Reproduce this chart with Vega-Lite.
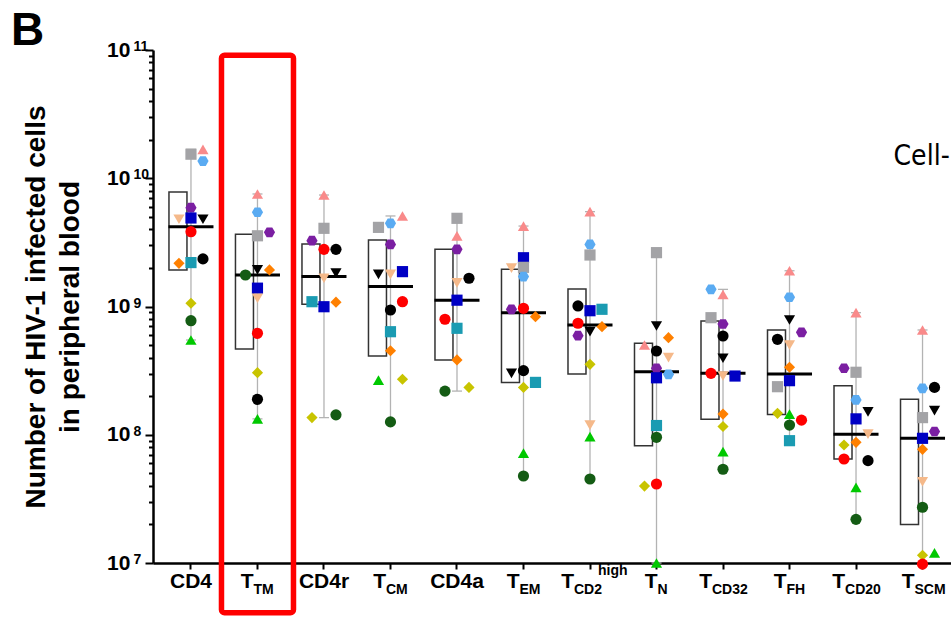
{
  "$schema": "https://vega.github.io/schema/vega-lite/v6.json",
  "width": 798,
  "height": 513,
  "autosize": "none",
  "padding": {"left": 153, "top": 50, "right": 0, "bottom": 56},
  "background": "white",
  "title": {"text": "B", "anchor": "start", "frame": "group", "fontSize": 46, "font": "Liberation Sans", "fontWeight": "bold", "color": "black", "offset": 0, "dx": -142, "dy": 52, "baseline": "alphabetic"},
  "config": {"view": {"stroke": null}},
  "datasets": {
    "boxes": [
      {"cat": "CD4", "q1": 1.93e9, "median": 4.19e9, "q3": 7.8e9, "min": 5.48e8, "max": 1.68e10},
      {"cat": "TTM", "q1": 4.66e8, "median": 1.76e9, "q3": 3.66e9, "min": 1.33e8, "max": 7.54e9},
      {"cat": "CD4r", "q1": 1.04e9, "median": 1.71e9, "q3": 3.07e9, "min": 1.36e8, "max": 7.4e9},
      {"cat": "TCM", "q1": 4.11e8, "median": 1.43e9, "q3": 3.3e9, "min": 1.26e8, "max": 5.08e9},
      {"cat": "CD4a", "q1": 3.83e8, "median": 1.12e9, "q3": 2.79e9, "min": 2.19e8, "max": 4.87e9},
      {"cat": "TEM", "q1": 2.56e8, "median": 8.95e8, "q3": 1.95e9, "min": 4.77e7, "max": 4.24e9},
      {"cat": "TCD2high", "q1": 2.98e8, "median": 7.17e8, "q3": 1.37e9, "min": 4.52e7, "max": 5.49e9},
      {"cat": "TN", "q1": 8.22e7, "median": 3.1e8, "q3": 5.16e8, "min": 1.0e7, "max": 2.63e9},
      {"cat": "TCD32", "q1": 1.32e8, "median": 3.01e8, "q3": 7.71e8, "min": 5.38e7, "max": 1.36e9},
      {"cat": "TFH", "q1": 1.44e8, "median": 2.98e8, "q3": 6.56e8, "min": 8.99e7, "max": 1.9e9},
      {"cat": "TCD20", "q1": 6.47e7, "median": 1.01e8, "q3": 2.41e8, "min": 2.19e7, "max": 8.95e8},
      {"cat": "TSCM", "q1": 2.0e7, "median": 9.38e7, "q3": 1.89e8, "min": 9.8e6, "max": 6.56e8}
    ],
    "points": [
      {"cat": "CD4", "donor": "P3", "lane": "C", "v": 1.54e10},
      {"cat": "CD4", "donor": "P1", "lane": "R", "v": 1.68e10},
      {"cat": "CD4", "donor": "P2", "lane": "R", "v": 1.36e10},
      {"cat": "CD4", "donor": "P4", "lane": "C", "v": 5.9e9},
      {"cat": "CD4", "donor": "P5", "lane": "C", "v": 4.9e9},
      {"cat": "CD4", "donor": "P6", "lane": "L", "v": 4.79e9},
      {"cat": "CD4", "donor": "P7", "lane": "R", "v": 4.79e9},
      {"cat": "CD4", "donor": "P9", "lane": "C", "v": 3.83e9},
      {"cat": "CD4", "donor": "P11", "lane": "L", "v": 2.17e9},
      {"cat": "CD4", "donor": "P10", "lane": "C", "v": 2.2e9},
      {"cat": "CD4", "donor": "P8", "lane": "R", "v": 2.35e9},
      {"cat": "CD4", "donor": "P12", "lane": "C", "v": 1.06e9},
      {"cat": "CD4", "donor": "P13", "lane": "C", "v": 7.75e8},
      {"cat": "CD4", "donor": "P14", "lane": "C", "v": 5.48e8},
      {"cat": "TTM", "donor": "P1", "lane": "C", "v": 7.54e9},
      {"cat": "TTM", "donor": "P2", "lane": "C", "v": 5.43e9},
      {"cat": "TTM", "donor": "P3", "lane": "C", "v": 3.56e9},
      {"cat": "TTM", "donor": "P4", "lane": "R", "v": 3.79e9},
      {"cat": "TTM", "donor": "P13", "lane": "L", "v": 1.76e9},
      {"cat": "TTM", "donor": "P7", "lane": "C", "v": 1.93e9},
      {"cat": "TTM", "donor": "P11", "lane": "R", "v": 1.93e9},
      {"cat": "TTM", "donor": "P5", "lane": "C", "v": 1.39e9},
      {"cat": "TTM", "donor": "P6", "lane": "C", "v": 1.16e9},
      {"cat": "TTM", "donor": "P9", "lane": "C", "v": 6.18e8},
      {"cat": "TTM", "donor": "P12", "lane": "C", "v": 3.05e8},
      {"cat": "TTM", "donor": "P8", "lane": "C", "v": 1.89e8},
      {"cat": "TTM", "donor": "P14", "lane": "C", "v": 1.33e8},
      {"cat": "CD4r", "donor": "P1", "lane": "C", "v": 7.4e9},
      {"cat": "CD4r", "donor": "P3", "lane": "C", "v": 4.07e9},
      {"cat": "CD4r", "donor": "P4", "lane": "L", "v": 3.26e9},
      {"cat": "CD4r", "donor": "P9", "lane": "C", "v": 2.79e9},
      {"cat": "CD4r", "donor": "P8", "lane": "R", "v": 2.79e9},
      {"cat": "CD4r", "donor": "P7", "lane": "R", "v": 1.82e9},
      {"cat": "CD4r", "donor": "P6", "lane": "C", "v": 1.66e9},
      {"cat": "CD4r", "donor": "P10", "lane": "L", "v": 1.09e9},
      {"cat": "CD4r", "donor": "P11", "lane": "R", "v": 1.08e9},
      {"cat": "CD4r", "donor": "P5", "lane": "C", "v": 9.96e8},
      {"cat": "CD4r", "donor": "P12", "lane": "L", "v": 1.36e8},
      {"cat": "CD4r", "donor": "P13", "lane": "R", "v": 1.43e8},
      {"cat": "TCM", "donor": "P1", "lane": "R", "v": 5.08e9},
      {"cat": "TCM", "donor": "P3", "lane": "L", "v": 4.14e9},
      {"cat": "TCM", "donor": "P2", "lane": "C", "v": 4.45e9},
      {"cat": "TCM", "donor": "P4", "lane": "C", "v": 3.05e9},
      {"cat": "TCM", "donor": "P7", "lane": "L", "v": 1.78e9},
      {"cat": "TCM", "donor": "P6", "lane": "C", "v": 1.78e9},
      {"cat": "TCM", "donor": "P5", "lane": "R", "v": 1.87e9},
      {"cat": "TCM", "donor": "P9", "lane": "R", "v": 1.09e9},
      {"cat": "TCM", "donor": "P8", "lane": "C", "v": 9.39e8},
      {"cat": "TCM", "donor": "P10", "lane": "C", "v": 6.36e8},
      {"cat": "TCM", "donor": "P11", "lane": "C", "v": 4.52e8},
      {"cat": "TCM", "donor": "P14", "lane": "L", "v": 2.67e8},
      {"cat": "TCM", "donor": "P12", "lane": "R", "v": 2.71e8},
      {"cat": "TCM", "donor": "P13", "lane": "C", "v": 1.26e8},
      {"cat": "CD4a", "donor": "P3", "lane": "C", "v": 4.87e9},
      {"cat": "CD4a", "donor": "P1", "lane": "C", "v": 3.55e9},
      {"cat": "CD4a", "donor": "P4", "lane": "C", "v": 2.79e9},
      {"cat": "CD4a", "donor": "P6", "lane": "C", "v": 1.53e9},
      {"cat": "CD4a", "donor": "P8", "lane": "R", "v": 1.66e9},
      {"cat": "CD4a", "donor": "P5", "lane": "C", "v": 1.12e9},
      {"cat": "CD4a", "donor": "P9", "lane": "L", "v": 7.95e8},
      {"cat": "CD4a", "donor": "P10", "lane": "C", "v": 6.76e8},
      {"cat": "CD4a", "donor": "P11", "lane": "C", "v": 3.83e8},
      {"cat": "CD4a", "donor": "P13", "lane": "L", "v": 2.19e8},
      {"cat": "CD4a", "donor": "P12", "lane": "R", "v": 2.34e8},
      {"cat": "TEM", "donor": "P1", "lane": "C", "v": 4.24e9},
      {"cat": "TEM", "donor": "P5", "lane": "C", "v": 2.4e9},
      {"cat": "TEM", "donor": "P3", "lane": "C", "v": 2.02e9},
      {"cat": "TEM", "donor": "P6", "lane": "L", "v": 1.99e9},
      {"cat": "TEM", "donor": "P2", "lane": "C", "v": 1.71e9},
      {"cat": "TEM", "donor": "P4", "lane": "L", "v": 9.51e8},
      {"cat": "TEM", "donor": "P9", "lane": "C", "v": 9.68e8},
      {"cat": "TEM", "donor": "P11", "lane": "R", "v": 8.33e8},
      {"cat": "TEM", "donor": "P7", "lane": "L", "v": 3.01e8},
      {"cat": "TEM", "donor": "P8", "lane": "C", "v": 3.16e8},
      {"cat": "TEM", "donor": "P10", "lane": "R", "v": 2.56e8},
      {"cat": "TEM", "donor": "P12", "lane": "C", "v": 2.34e8},
      {"cat": "TEM", "donor": "P14", "lane": "C", "v": 7.2e7},
      {"cat": "TEM", "donor": "P13", "lane": "C", "v": 4.77e7},
      {"cat": "TCD2high", "donor": "P1", "lane": "C", "v": 5.49e9},
      {"cat": "TCD2high", "donor": "P2", "lane": "C", "v": 3.05e9},
      {"cat": "TCD2high", "donor": "P3", "lane": "C", "v": 2.52e9},
      {"cat": "TCD2high", "donor": "P8", "lane": "L", "v": 1.01e9},
      {"cat": "TCD2high", "donor": "P5", "lane": "C", "v": 9.27e8},
      {"cat": "TCD2high", "donor": "P10", "lane": "R", "v": 9.51e8},
      {"cat": "TCD2high", "donor": "P9", "lane": "L", "v": 7.4e8},
      {"cat": "TCD2high", "donor": "P7", "lane": "C", "v": 6.36e8},
      {"cat": "TCD2high", "donor": "P11", "lane": "R", "v": 6.96e8},
      {"cat": "TCD2high", "donor": "P4", "lane": "L", "v": 5.92e8},
      {"cat": "TCD2high", "donor": "P12", "lane": "C", "v": 3.54e8},
      {"cat": "TCD2high", "donor": "P6", "lane": "C", "v": 1.19e8},
      {"cat": "TCD2high", "donor": "P14", "lane": "C", "v": 9.66e7},
      {"cat": "TCD2high", "donor": "P13", "lane": "C", "v": 4.52e7},
      {"cat": "TN", "donor": "P3", "lane": "C", "v": 2.63e9},
      {"cat": "TN", "donor": "P7", "lane": "C", "v": 7.05e8},
      {"cat": "TN", "donor": "P11", "lane": "R", "v": 5.71e8},
      {"cat": "TN", "donor": "P1", "lane": "L", "v": 5.01e8},
      {"cat": "TN", "donor": "P8", "lane": "C", "v": 4.5e8},
      {"cat": "TN", "donor": "P6", "lane": "R", "v": 3.99e8},
      {"cat": "TN", "donor": "P4", "lane": "C", "v": 3.3e8},
      {"cat": "TN", "donor": "P5", "lane": "C", "v": 2.78e8},
      {"cat": "TN", "donor": "P2", "lane": "R", "v": 2.96e8},
      {"cat": "TN", "donor": "P10", "lane": "C", "v": 1.18e8},
      {"cat": "TN", "donor": "P13", "lane": "C", "v": 9.55e7},
      {"cat": "TN", "donor": "P12", "lane": "L", "v": 3.98e7},
      {"cat": "TN", "donor": "P9", "lane": "C", "v": 4.13e7},
      {"cat": "TN", "donor": "P14", "lane": "C", "v": 1.0e7},
      {"cat": "TCD32", "donor": "P2", "lane": "L", "v": 1.36e9},
      {"cat": "TCD32", "donor": "P1", "lane": "C", "v": 1.24e9},
      {"cat": "TCD32", "donor": "P3", "lane": "L", "v": 8.18e8},
      {"cat": "TCD32", "donor": "P4", "lane": "C", "v": 7.3e8},
      {"cat": "TCD32", "donor": "P8", "lane": "C", "v": 5.89e8},
      {"cat": "TCD32", "donor": "P7", "lane": "C", "v": 3.95e8},
      {"cat": "TCD32", "donor": "P9", "lane": "L", "v": 3.01e8},
      {"cat": "TCD32", "donor": "P6", "lane": "C", "v": 2.87e8},
      {"cat": "TCD32", "donor": "P5", "lane": "R", "v": 2.87e8},
      {"cat": "TCD32", "donor": "P11", "lane": "C", "v": 1.45e8},
      {"cat": "TCD32", "donor": "P12", "lane": "C", "v": 1.16e8},
      {"cat": "TCD32", "donor": "P14", "lane": "C", "v": 7.38e7},
      {"cat": "TCD32", "donor": "P13", "lane": "C", "v": 5.38e7},
      {"cat": "TFH", "donor": "P1", "lane": "C", "v": 1.9e9},
      {"cat": "TFH", "donor": "P2", "lane": "C", "v": 1.18e9},
      {"cat": "TFH", "donor": "P7", "lane": "C", "v": 7.85e8},
      {"cat": "TFH", "donor": "P4", "lane": "R", "v": 6.29e8},
      {"cat": "TFH", "donor": "P8", "lane": "L", "v": 5.55e8},
      {"cat": "TFH", "donor": "P6", "lane": "C", "v": 5.01e8},
      {"cat": "TFH", "donor": "P11", "lane": "C", "v": 3.36e8},
      {"cat": "TFH", "donor": "P5", "lane": "C", "v": 2.64e8},
      {"cat": "TFH", "donor": "P3", "lane": "L", "v": 2.37e8},
      {"cat": "TFH", "donor": "P12", "lane": "L", "v": 1.47e8},
      {"cat": "TFH", "donor": "P14", "lane": "C", "v": 1.45e8},
      {"cat": "TFH", "donor": "P9", "lane": "R", "v": 1.3e8},
      {"cat": "TFH", "donor": "P13", "lane": "C", "v": 1.19e8},
      {"cat": "TFH", "donor": "P10", "lane": "C", "v": 8.99e7},
      {"cat": "TCD20", "donor": "P1", "lane": "C", "v": 8.95e8},
      {"cat": "TCD20", "donor": "P4", "lane": "L", "v": 3.3e8},
      {"cat": "TCD20", "donor": "P3", "lane": "C", "v": 3.07e8},
      {"cat": "TCD20", "donor": "P2", "lane": "C", "v": 1.87e8},
      {"cat": "TCD20", "donor": "P5", "lane": "C", "v": 1.33e8},
      {"cat": "TCD20", "donor": "P7", "lane": "R", "v": 1.51e8},
      {"cat": "TCD20", "donor": "P6", "lane": "R", "v": 1.01e8},
      {"cat": "TCD20", "donor": "P11", "lane": "C", "v": 8.73e7},
      {"cat": "TCD20", "donor": "P12", "lane": "L", "v": 8.32e7},
      {"cat": "TCD20", "donor": "P9", "lane": "L", "v": 6.47e7},
      {"cat": "TCD20", "donor": "P8", "lane": "R", "v": 6.28e7},
      {"cat": "TCD20", "donor": "P14", "lane": "C", "v": 3.89e7},
      {"cat": "TCD20", "donor": "P13", "lane": "C", "v": 2.19e7},
      {"cat": "TSCM", "donor": "P1", "lane": "C", "v": 6.56e8},
      {"cat": "TSCM", "donor": "P2", "lane": "C", "v": 2.3e8},
      {"cat": "TSCM", "donor": "P8", "lane": "R", "v": 2.34e8},
      {"cat": "TSCM", "donor": "P3", "lane": "C", "v": 1.36e8},
      {"cat": "TSCM", "donor": "P7", "lane": "R", "v": 1.54e8},
      {"cat": "TSCM", "donor": "P4", "lane": "R", "v": 1.06e8},
      {"cat": "TSCM", "donor": "P5", "lane": "C", "v": 9.38e7},
      {"cat": "TSCM", "donor": "P11", "lane": "C", "v": 7.7e7},
      {"cat": "TSCM", "donor": "P6", "lane": "C", "v": 4.3e7},
      {"cat": "TSCM", "donor": "P13", "lane": "C", "v": 2.72e7},
      {"cat": "TSCM", "donor": "P12", "lane": "C", "v": 1.15e7},
      {"cat": "TSCM", "donor": "P14", "lane": "R", "v": 1.2e7},
      {"cat": "TSCM", "donor": "P9", "lane": "C", "v": 9.8e6}
    ]
  },
  "resolve": {"axis": {"x": "independent", "y": "independent"}},
  "layer": [
    {
      "layer": [
        {
          "data": {"name": "boxes"},
          "mark": {"type": "rule", "color": "#b3b3b3", "strokeWidth": 1.3, "opacity": 1},
          "encoding": {
            "x": {
              "field": "cat", "type": "nominal",
              "scale": {"type": "band", "domain": ["CD4", "TTM", "CD4r", "TCM", "CD4a", "TEM", "TCD2high", "TN", "TCD32", "TFH", "TCD20", "TSCM"], "range": [0, 807.5], "paddingInner": 0.338, "paddingOuter": 0.24},
              "axis": {
                "title": null, "orient": "bottom", "labelAngle": 0,
                "domainColor": "black", "domainWidth": 2.5,
                "tickColor": "black", "tickWidth": 2, "tickSize": 6,
                "labelFont": "Liberation Sans", "labelFontWeight": "bold", "labelFontSize": 21, "labelColor": "black",
                "labelPadding": 1, "labelBaseline": "top",
                "labelExpr": "indexof(['CD4','CD4r','CD4a'], datum.value) >= 0 ? datum.value : 'T'",
                "labelAlign": {"condition": {"test": "indexof(['CD4','CD4r','CD4a'], datum.value) >= 0", "value": "center"}, "value": "right"},
                "labelOffset": {"condition": [
                  {"test": "datum.value == 'TTM'", "value": -4},
                  {"test": "datum.value == 'TCM'", "value": -4.5},
                  {"test": "datum.value == 'TEM'", "value": -4},
                  {"test": "datum.value == 'TCD2high'", "value": -16},
                  {"test": "datum.value == 'TN'", "value": 1},
                  {"test": "datum.value == 'TCD32'", "value": -11},
                  {"test": "datum.value == 'TFH'", "value": -3},
                  {"test": "datum.value == 'TCD20'", "value": -11},
                  {"test": "datum.value == 'TSCM'", "value": -8}
                ], "value": 0}
              }
            },
            "y": {
              "field": "min", "type": "quantitative",
              "scale": {"type": "log", "domain": [1e7, 1e11], "nice": false},
              "axis": {
                "title": ["Number of HIV-1 infected cells", "in peripheral blood"],
                "titleFont": "Liberation Sans", "titleFontWeight": "bold", "titleFontSize": 28, "titleLineHeight": 34, "titlePadding": 22, "titleColor": "black",
                "values": [1e7, 2e7, 3e7, 4e7, 5e7, 6e7, 7e7, 8e7, 9e7, 1e8, 2e8, 3e8, 4e8, 5e8, 6e8, 7e8, 8e8, 9e8, 1e9, 2e9, 3e9, 4e9, 5e9, 6e9, 7e9, 8e9, 9e9, 1e10, 2e10, 3e10, 4e10, 5e10, 6e10, 7e10, 8e10, 9e10, 1e11],
                "labelExpr": "abs(log(datum.value)/LN10 - round(log(datum.value)/LN10)) < 0.01 ? '10' : ''",
                "labelFont": "Liberation Sans", "labelFontWeight": "bold", "labelFontSize": 21, "labelColor": "black",
                "labelAlign": "left", "labelPadding": 38.5,
                "labelOverlap": false, "labelFlush": false,
                "tickColor": "black", "tickWidth": 2,
                "tickSize": {"condition": {"test": "abs(log(datum.value)/LN10 - round(log(datum.value)/LN10)) < 0.01", "value": 8}, "value": 4.5},
                "domainColor": "black", "domainWidth": 2.5, "grid": false
              }
            },
            "y2": {"field": "max"}
          }
        },
        {
          "data": {"name": "boxes"},
          "mark": {"type": "tick", "color": "#b3b3b3", "thickness": 1.3, "size": 10, "opacity": 1},
          "encoding": {"x": {"field": "cat", "type": "nominal"}, "y": {"field": "min", "type": "quantitative"}}
        },
        {
          "data": {"name": "boxes"},
          "mark": {"type": "tick", "color": "#b3b3b3", "thickness": 1.3, "size": 10, "opacity": 1},
          "encoding": {"x": {"field": "cat", "type": "nominal"}, "y": {"field": "max", "type": "quantitative"}}
        },
        {
          "data": {"name": "boxes"},
          "mark": {"type": "bar", "fill": "white", "stroke": "#333333", "strokeWidth": 1.5, "opacity": 1},
          "encoding": {"x": {"field": "cat", "type": "nominal"}, "y": {"field": "q1", "type": "quantitative"}, "y2": {"field": "q3"}}
        },
        {
          "data": {"name": "boxes"},
          "mark": {"type": "tick", "color": "black", "thickness": 3, "size": 45, "opacity": 1},
          "encoding": {"x": {"field": "cat", "type": "nominal"}, "y": {"field": "median", "type": "quantitative"}}
        },
        {
          "data": {"name": "points"},
          "mark": {"type": "point", "filled": true, "opacity": 1, "size": 125, "strokeWidth": 0},
          "encoding": {
            "x": {"field": "cat", "type": "nominal"},
            "xOffset": {"field": "lane", "type": "nominal", "scale": {"type": "point", "domain": ["L", "C", "R"], "range": [4, 40]}},
            "y": {"field": "v", "type": "quantitative"},
            "color": {"field": "donor", "type": "nominal", "legend": null,
              "scale": {"domain": ["P1", "P2", "P3", "P4", "P5", "P6", "P7", "P8", "P9", "P10", "P11", "P12", "P13", "P14"],
                "range": ["#f98a8a", "#5aabf2", "#a3a3a6", "#7b1fa2", "#0000c4", "#f5b98a", "#000000", "#000000", "#ff0000", "#1a9bb2", "#ff8000", "#c8c400", "#145c14", "#00c800"]}},
            "shape": {"field": "donor", "type": "nominal", "legend": null,
              "scale": {"domain": ["P1", "P2", "P3", "P4", "P5", "P6", "P7", "P8", "P9", "P10", "P11", "P12", "P13", "P14"],
                "range": ["triangle-up", "M-1,0L-0.5,-0.866L0.5,-0.866L1,0L0.5,0.866L-0.5,0.866Z", "square", "M-1,0L-0.5,-0.866L0.5,-0.866L1,0L0.5,0.866L-0.5,0.866Z", "square", "triangle-down", "triangle-down", "circle", "circle", "square", "diamond", "diamond", "circle", "triangle-up"]}}
          }
        },
        {
          "data": {"values": [{"note": "highlight"}]},
          "mark": {"type": "bar", "width": 72, "fill": "white", "fillOpacity": 0, "stroke": "#ff0000", "strokeOpacity": 1, "opacity": 1, "strokeWidth": 5.5, "cornerRadius": 3, "strokeJoin": "round"},
          "encoding": {"x": {"datum": "TTM"}, "y": {"datum": 9.1e10}, "y2": {"datum": 4.1e6}}
        },
        {
          "data": {"values": [{"t": "Cell-"}]},
          "mark": {"type": "text", "align": "left", "baseline": "middle", "font": "DejaVu Sans Condensed, Roboto", "fontSize": 28, "color": "black", "dx": -29},
          "encoding": {"x": {"datum": "TSCM"}, "y": {"datum": 1.465e10}, "text": {"field": "t"}}
        }
      ]
    },
    {
      "data": {"name": "boxes"},
      "mark": {"type": "point", "opacity": 0},
      "encoding": {
        "x": {"field": "cat", "type": "nominal",
          "axis": {
            "title": null, "orient": "bottom", "labelAngle": 0, "domain": false, "ticks": false, "tickSize": 0,
            "labelFont": "Liberation Sans", "labelFontWeight": "bold", "labelFontSize": 14, "labelColor": "black",
            "labelPadding": 19, "labelBaseline": "top", "labelAlign": "left",
            "labelExpr": "indexof(['CD4','CD4r','CD4a'], datum.value) >= 0 ? '' : (datum.value == 'TCD2high' ? 'CD2' : substring(datum.value, 1))",
            "labelOffset": {"condition": [
              {"test": "datum.value == 'TTM'", "value": -4},
              {"test": "datum.value == 'TCM'", "value": -4.5},
              {"test": "datum.value == 'TEM'", "value": -4},
              {"test": "datum.value == 'TCD2high'", "value": -16},
              {"test": "datum.value == 'TN'", "value": 1},
              {"test": "datum.value == 'TCD32'", "value": -11},
              {"test": "datum.value == 'TFH'", "value": -3},
              {"test": "datum.value == 'TCD20'", "value": -11},
              {"test": "datum.value == 'TSCM'", "value": -8}
            ], "value": 0}
          }
        },
        "y": {"field": "median", "type": "quantitative",
          "axis": {
            "title": null, "orient": "left", "domain": false, "ticks": false, "tickSize": 0, "grid": false,
            "values": [1e7, 1e8, 1e9, 1e10, 1e11],
            "labelExpr": "'' + round(log(datum.value)/LN10)",
            "labelFont": "Liberation Sans", "labelFontWeight": "bold", "labelFontSize": 14, "labelColor": "black",
            "labelAlign": "left", "labelPadding": 20, "labelOffset": -3.5,
            "labelOverlap": false, "labelFlush": false
          }
        }
      }
    },
    {
      "data": {"name": "boxes"},
      "mark": {"type": "point", "opacity": 0},
      "encoding": {
        "x": {"field": "cat", "type": "nominal",
          "axis": {
            "title": null, "orient": "bottom", "labelAngle": 0, "domain": false, "ticks": false, "tickSize": 0,
            "labelFont": "Liberation Sans", "labelFontWeight": "bold", "labelFontSize": 14, "labelColor": "black",
            "labelPadding": 0, "labelBaseline": "top", "labelAlign": "left", "labelOffset": 8,
            "labelExpr": "datum.value == 'TCD2high' ? 'high' : ''"
          }
        },
        "y": {"field": "median", "type": "quantitative", "axis": null}
      }
    }
  ]
}
